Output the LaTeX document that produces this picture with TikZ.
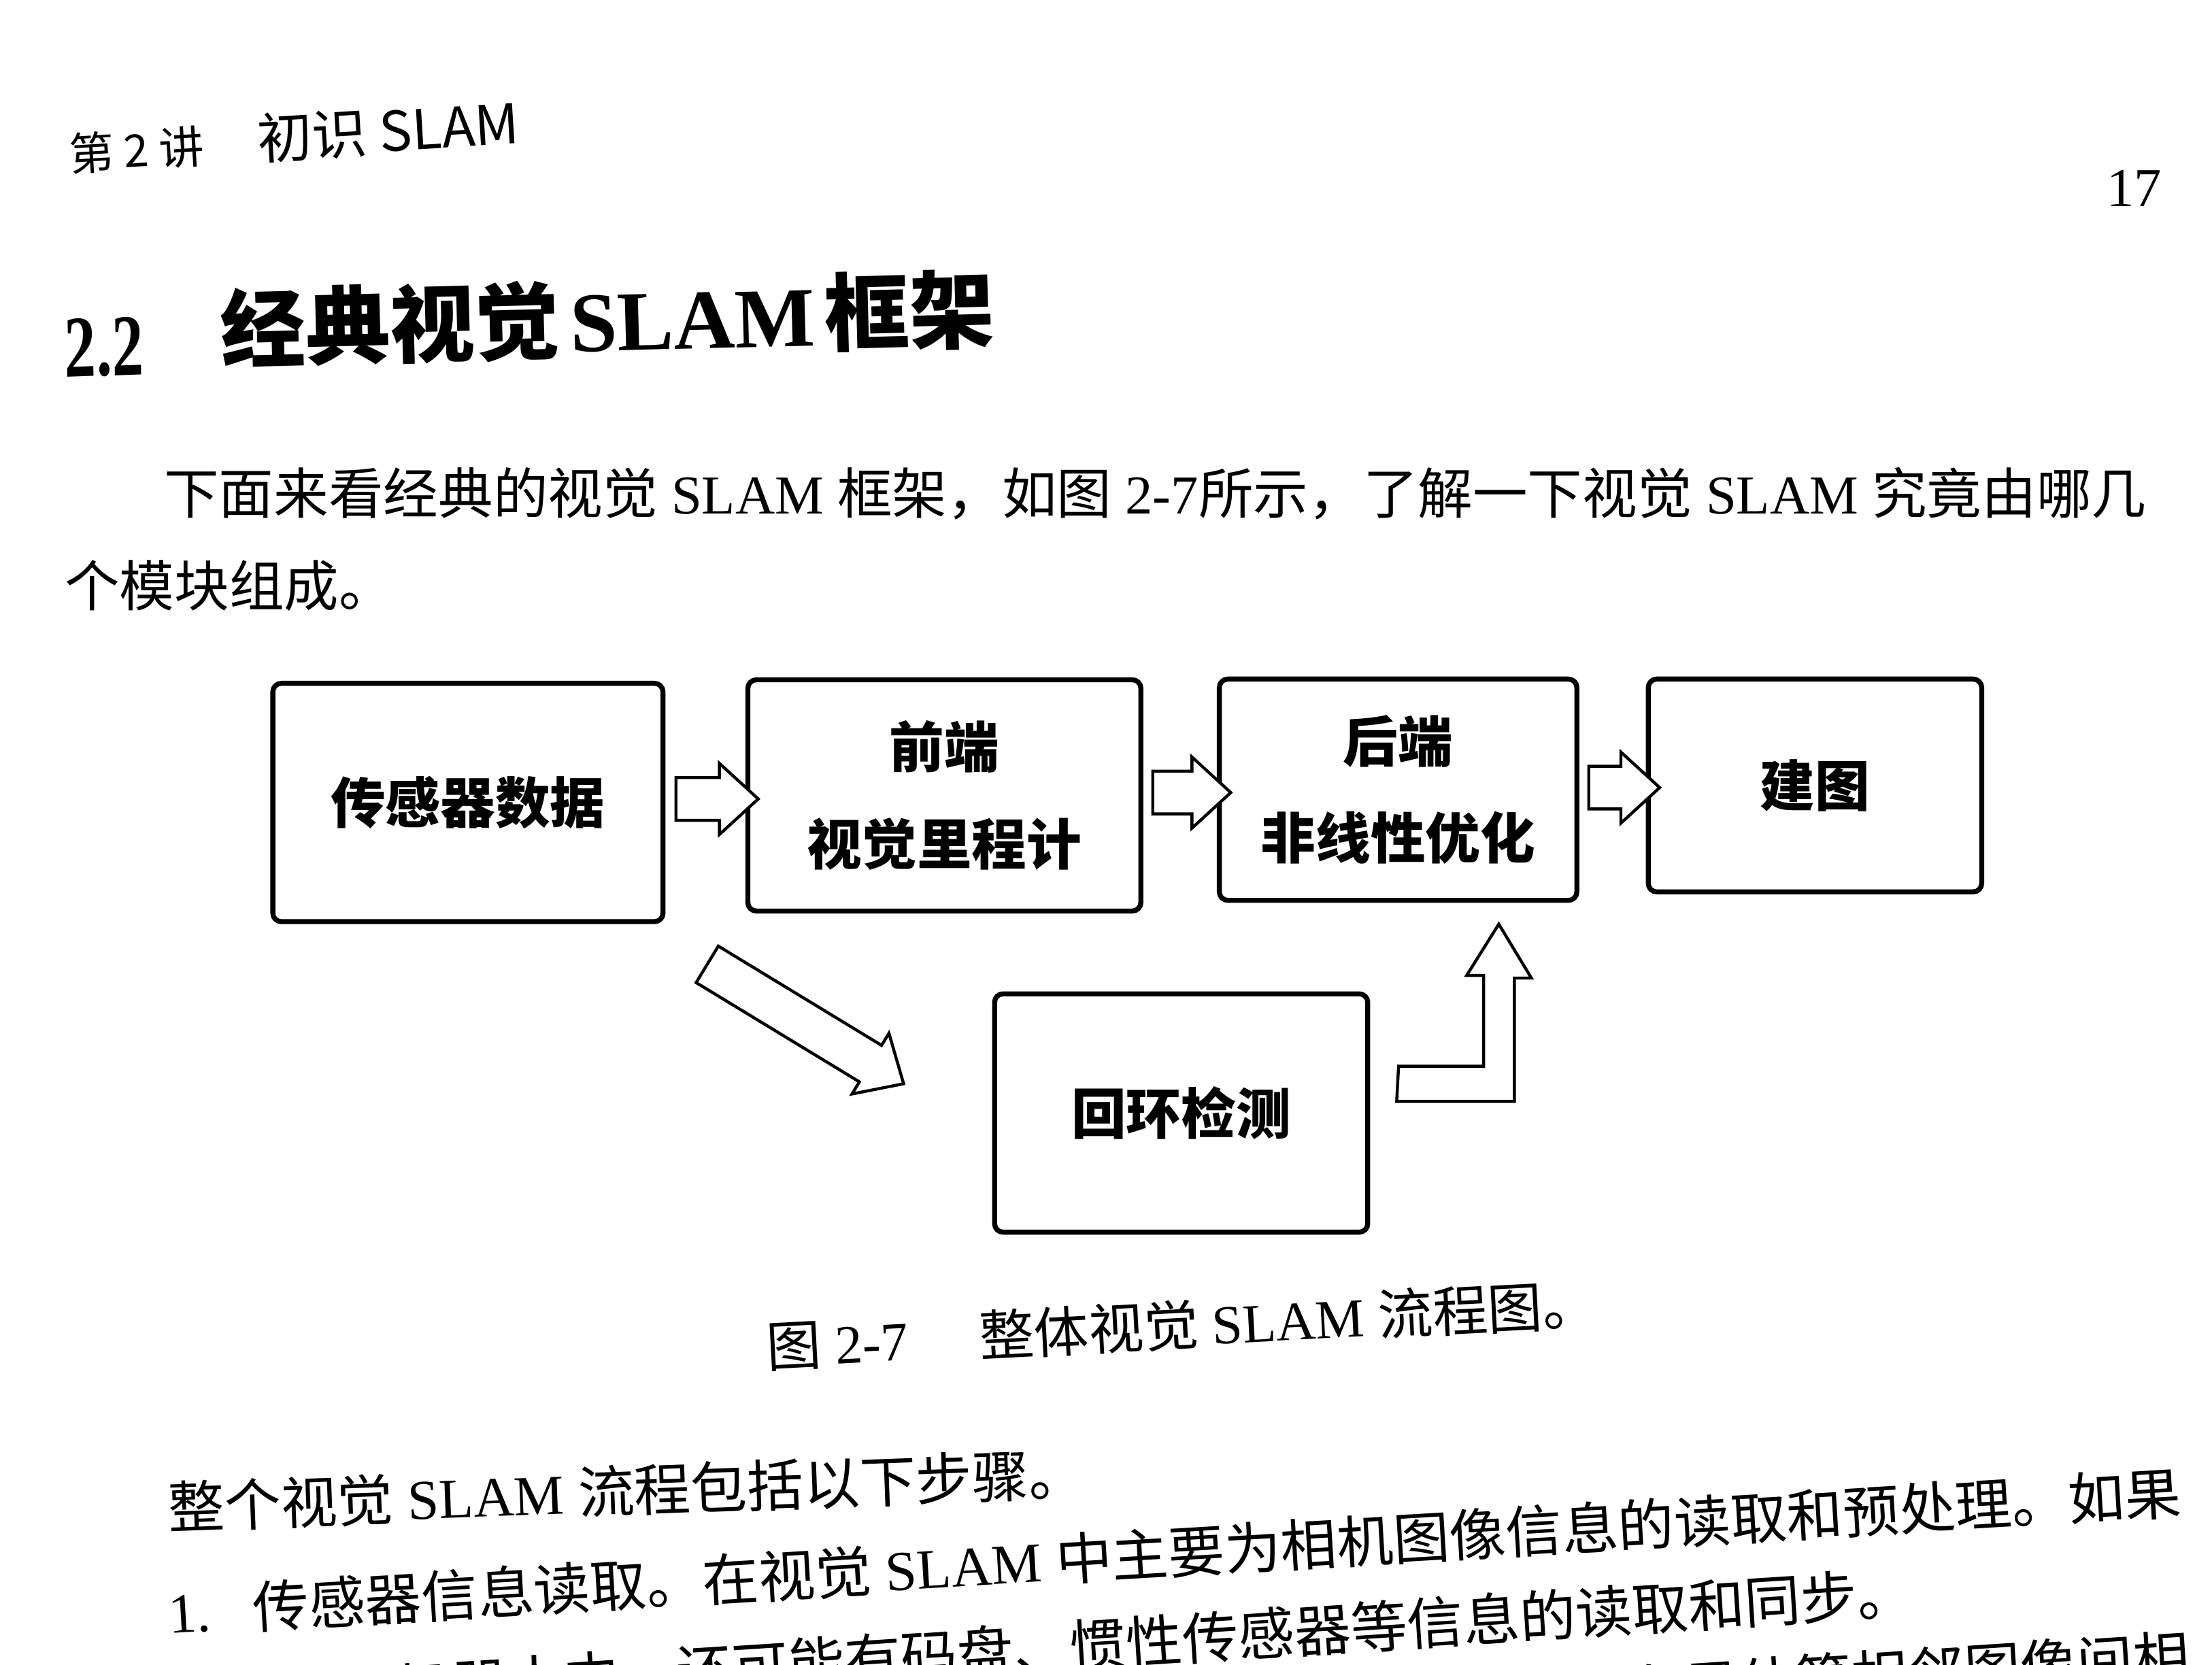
\documentclass[tikz,border=0pt]{standalone}
\usepackage{fontspec}
\setmainfont{Liberation Serif}
\newfontfamily\cjk{Noto Sans CJK SC}
\usetikzlibrary{shapes.arrows,calc}
\newcommand{\zh}[1]{{\cjk #1}}
\tikzstyle{module}=[rectangle, rounded corners=1.7pt, draw=black, line width=1pt, inner sep=0pt, align=center, font=\cjk\bfseries\fontsize{11}{19.4}\selectfont]
\tikzstyle{hollow}=[single arrow, draw=black, line width=0.6pt, fill=white, inner xsep=0pt, inner ysep=0.14cm, text height=0pt, text depth=0pt, single arrow head extend=0.1cm, single arrow tip angle=85]
\tikzstyle{hollowline}=[draw=black, line width=0.6pt, fill=white, line join=miter]
\tikzstyle{body}=[inner sep=0pt, font=\fontsize{11}{14}\selectfont]
\tikzstyle{lower}=[inner sep=0pt, font=\fontsize{11.3}{14}\selectfont]

\begin{document}
\begin{tikzpicture}[x=0.01cm, y=-0.01cm]
	\useasboundingbox[fill=white] (0,0) rectangle (1560,1174);
	
	% page head and title
	\node[anchor=west, inner sep=0pt, rotate=3.5] at (48,106) (head) {\cjk\fontsize{9}{11}\selectfont 第 2 讲\hspace{1.2em}\fontsize{11}{13}\selectfont 初识 SLAM};
	\node[inner sep=0pt, font=\fontsize{11}{13}\selectfont] at (1505,133) (pagenum) {17};
	\node[anchor=west, inner sep=0pt, xscale=0.72, rotate=1.5, font=\bfseries\fontsize{17.6}{20}\selectfont] at (45,246) (secnum) {2.2};
	\node[anchor=west, inner sep=0pt, rotate=1.5, font=\bfseries\fontsize{17}{20}\selectfont] at (155,232) (sectitle) {\zh{经典视觉}\hspace{0.12em}SLAM\hspace{0.12em}\zh{框架}};
	
	\node[body, anchor=west] at (115,348) (par1) {\zh{下面来看经典的视觉} SLAM \zh{框架，如图} 2-7\zh{所示，了解一下视觉} SLAM \zh{究竟由哪几}};
	\node[body, anchor=west] at (45,413) (par2) {\zh{个模块组成。}};
	
	% modules
	\node[module, minimum width=2.75cm, minimum height=1.68cm] at (330,566) (sensor) {传感器数据};
	
	\node[module, minimum width=2.77cm, minimum height=1.63cm] at (666,561) (frontend) {前端\\视觉里程计};
	
	\node[module, minimum width=2.52cm, minimum height=1.56cm] at (986,557) (backend) {后端\\非线性优化};
	
	\node[module, minimum width=2.35cm, minimum height=1.50cm] at (1280,554) (mapping) {建图};
	
	\node[module, minimum width=2.63cm, minimum height=1.68cm] at (833,785) (loop) {回环检测};
	
	% hollow arrows
	\node[hollow, minimum height=0.58cm] at ($(sensor.east)!0.5!(frontend.west)$) (s2f) {};
	\node[hollow, minimum height=0.55cm] at ($(frontend.east)!0.5!(backend.west)$) (f2b) {};
	\node[hollow, minimum height=0.50cm] at ($(backend.east)!0.5!(mapping.west)$) (b2m) {};
	\node[hollow, minimum height=1.62cm, rotate=-31.3] at (561,718) (s2l) {};
	
	\coordinate (ltail) at ($(loop.east)+(20,-22)$);
	\coordinate (ltip) at ($(backend.south)+(71,15)$);
	\draw[hollowline] ($(ltail)+(0,-11)$) -- ++(60,0) -- ++(0,-64) -- ++(-12,0) -- (ltip) -- ++(23,38) -- ++(-12,0) -- ++(0,87) -- ++(-83,0) -- cycle;
	
	% caption and text below
	\node[anchor=west, inner sep=0pt, rotate=3, font=\fontsize{11}{13}\selectfont] at (540,950) (caption) {\zh{图} 2-7\hspace{1.3em}\zh{整体视觉} SLAM \zh{流程图。}};
	
	\node[lower, anchor=west, rotate=2.1] at (118,1063) (steps) {\zh{整个视觉} SLAM \zh{流程包括以下步骤。}};
	\node[lower, anchor=west, rotate=3.4] at (118,1137) (item1) {1.\hspace{0.75em}\zh{传感器信息读取。在视觉} SLAM \zh{中主要为相机图像信息的读取和预处理。如果}};
	\node[lower, anchor=east, rotate=3.7] at (1350,1123) (item1b) {\zh{是在机器人中，还可能有码盘、惯性传感器等信息的读取和同步。}};
	\node[lower, anchor=east, rotate=3.7] at (1545,1170) (item2) {2.\ \zh{视觉里程计（}Visual Odometry, VO\zh{）。视觉里程计的任务是估算相邻图像间相}};
	
\end{tikzpicture}
\end{document}
